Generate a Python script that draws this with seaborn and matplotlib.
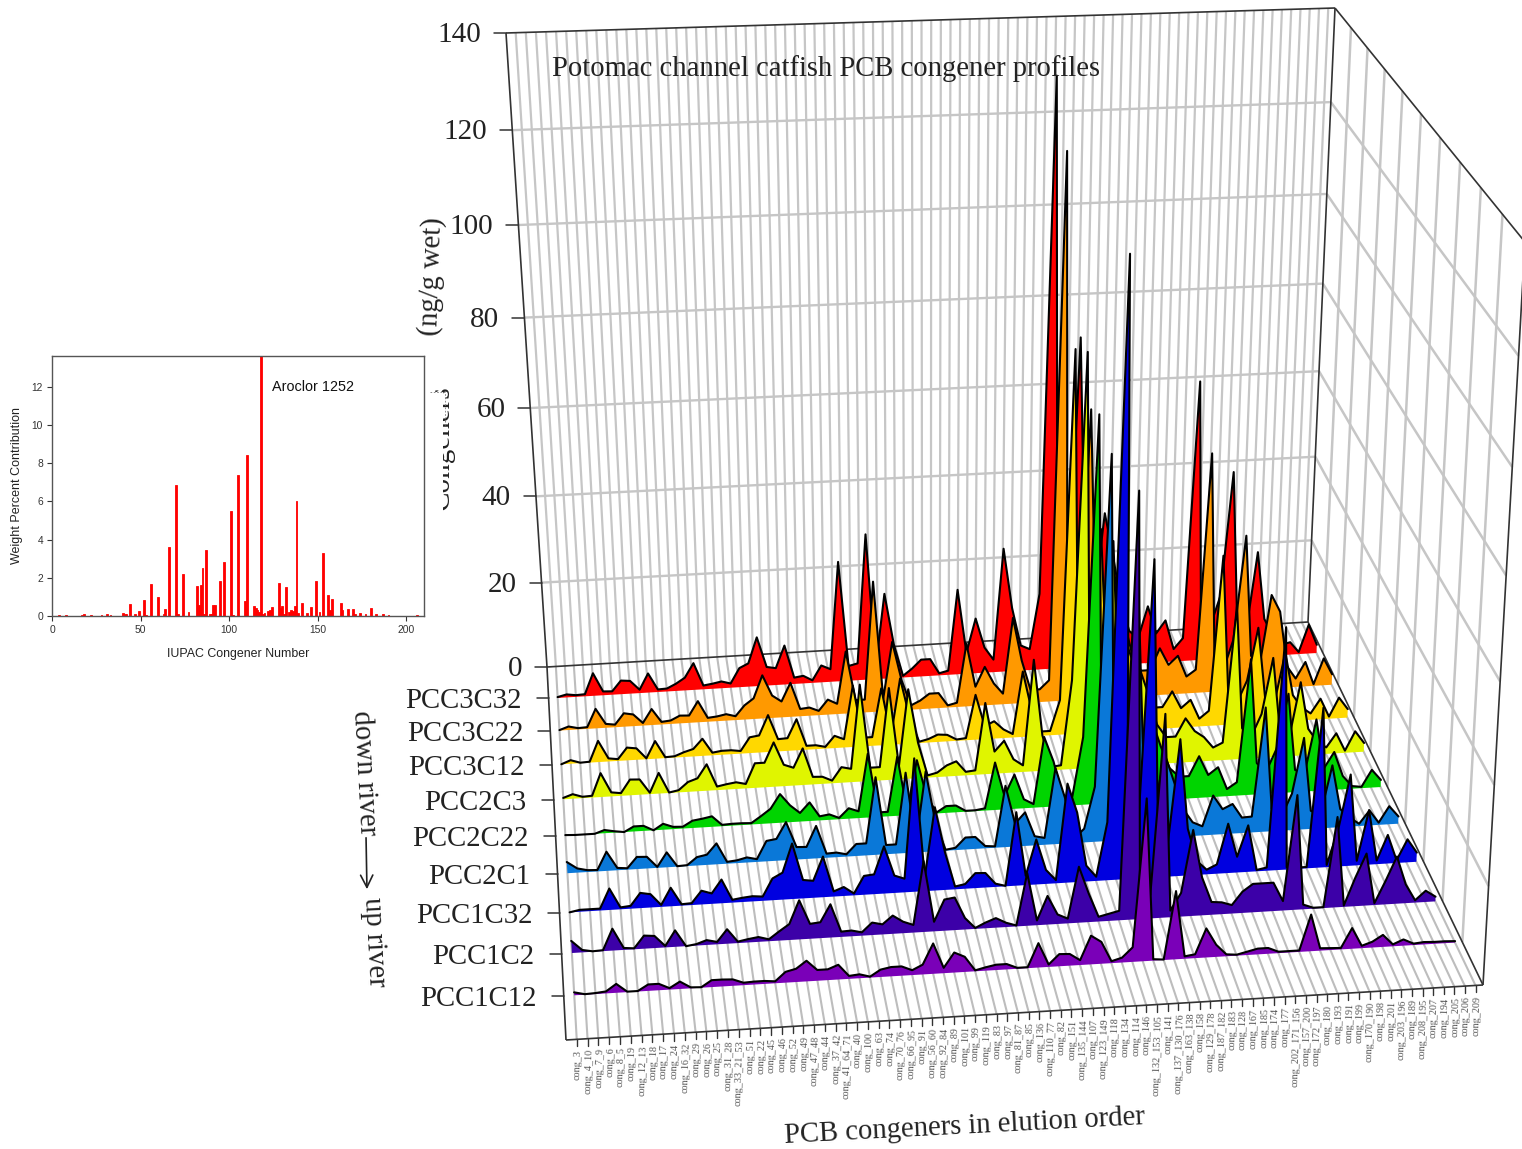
import numpy as np
import pandas as pd
import matplotlib
matplotlib.use('Agg')
import matplotlib.pyplot as plt
import seaborn as sns

congeners = ['3','4_10','7_9','6','8_5','19','12_13','18','17','24','16_32','29','26','25','31_28',
             '33_21_53','51','22','45','46','52','49','47_48','44','37_42','41_64_71','40','100','63','74',
             '70_76','66_95','91','56_60','92_84','89','101','99','119','83','97','81_87','85','136','110_77',
             '82','151','135_144','107','123_149','118','134','114','146','132_153_105','141','137_130_176',
             '163_138','158','129_178','187_182','183','128','167','185','174','177','202_171_156','157_200',
             '172_197','180','193','191','199','170_190','198','201','203_196','189','208_195','207','194',
             '205','206','209']

samples = ['PCC3C32','PCC3C22','PCC3C12','PCC2C3','PCC2C22','PCC2C1','PCC1C32','PCC1C2','PCC1C12']
colors = ['#ff0000','#ff9900','#ffd800','#e0f500','#00d400','#0a78d8','#0000e0','#3c00a8','#7a00b8']

pcc3c32 = [.2,.7,.4,.5,5.3,.9,.8,3.2,3,.8,
           4.5,.6,.7,1.7,3,6.3,.9,1.2,1.6,1,
           4.5,5.5,11.5,4.4,4,9.2,1.5,1.8,.6,4,
           3,28,3.5,4,34,3,20,8,.4,2,
           4,4,.5,1,20,5,13,6,3,29,
           15,6,5,18,132,12,10,76,20,14,
           36,26,15,8,6,13.6,7,10,3,5.5,
           65,6,8,15,44,8,6,25,9,5,
           2.5,3,.5,7,2]
pcc3c22 = [.1,.8,.3,.4,4.5,.9,.6,3.1,2.7,.6,
           3.7,.6,.8,1.8,1.7,4.9,.9,1.1,1.5,.9,
           3.3,4.8,10,5.2,3.7,7.9,1.7,1.9,1,3.5,
           2.4,14.4,3,3,30,3,16,7,1,2,
           3.5,3.5,.5,1,14.6,4.5,9,5,2.5,20,
           10,3,3,5,121,3,6,66,15,10,
           28,18,10,6,6,11,7,9,4,5.5,
           55,8,5,12,36,8,6,22,18,5,
           2,5.8,.4,6.4,2.5]
pcc3c12 = [0,.8,.1,.2,4.8,.7,.4,2.9,2.6,.2,
           4,.2,.3,1.1,1.7,3.9,.6,.9,.9,.6,
           3.6,3.9,8.4,2.8,2.9,7.1,.9,.9,.4,2.8,
           1.9,14,2,2,13,2,15,6,.3,.8,
           1.7,1.5,.3,.5,10.3,3,4,2,.8,15,
           6,1,1,8,85,3,6,46,12,8,
           20,14,8,5,5,8.5,4.5,6.3,1.8,3.5,
           38.7,8,5,10,22,6,4,16,6,3,
           1.5,4.8,.5,4.8,2]
pcc2c3 = [.3,1,.3,.4,5.3,.9,.6,3.5,3.4,.3,
          4.6,.1,.5,2.2,2.9,5.9,.8,1.2,1.5,1,
          5.5,5.5,9.9,4.8,4,8.2,1.7,1.6,.6,3.5,
          3,21.6,3,3,20.5,3,20,8,.5,1,
          2.5,3.3,.8,1,16,5,7.3,3,1.5,25,
          8,.8,1,20,90,4,6,50,12,8,
          22,16,9,6,6,10,7,5.5,3,4,
          34.6,7,5,10,22.5,6,4,16.7,6,3,
          1.5,4.6,.5,4.8,2]
pcc2c22 = [.1,0,0,0,.7,.3,0,1.1,1.1,0,
           1.3,.5,.4,1.6,1.9,2.3,.3,.4,.4,.3,
           1.7,3.2,6.3,3.7,1.9,4.1,.9,1.2,.3,2.3,
           1.5,14,1,1,13,1,12,4,.2,1.5,
           1.5,.2,.2,.5,10.5,3,7.6,2,.8,15.5,
           10,2,2,15,83,5,6,46,10,6,
           18,12,7,5,5,9.3,5,6.6,1.6,3,
           30,7,5,10,22,5,4,16,5,8.5,
           3,.6,.3,4,1.6]
pcc2c1 = [2.4,.9,.4,.3,4.1,.5,.3,2.6,2.5,.2,
          3.2,.1,.2,1.8,2.2,4.5,.4,.6,1.1,.6,
          4.4,4.7,8.2,2.7,2.6,7,.9,1,.5,2.6,
          2.6,16.7,2,2,17.3,2,17.3,6,.2,.5,
          2.6,2.6,.5,.3,13.3,5,7.3,2,1.5,16.5,
          10,1,3,12,81,5,6,50,10,6,
          18,12,6,3,2,8.6,5.5,6.5,3.4,3.5,
          27,5,3,8,20,4,3,13.7,4,2,
          .5,3.3,.5,4,1.6]
pcc1c32 = [0,.4,.4,.4,4.5,.4,.6,3.2,2.8,.4,
           3.9,.3,.4,2.9,2.2,5,.6,.9,1.1,.9,
           4.6,5.7,11.7,3.9,3.6,8.6,1.1,1.9,.4,4,
           4.2,10,3.7,2.9,28,3,17.6,8,.6,1,
           3.2,3.1,.7,.1,15.6,2,9.6,3,.7,21,
           14.8,3.4,.9,12.4,125,10,8,66,12,6,
           29,10,3,1,2,10.6,3.4,10,.3,.7,
           51,.5,.3,.3,34,.5,8,19.6,1,11.8,
           .8,6.2,.6,5,2]
pcc1c2 = [2.5,.5,.1,.2,4.5,.4,.2,2.7,2.5,.3,
          3.4,0,.3,1,.5,3,.3,.7,1,.4,
          1.9,3.3,8.1,3.1,3.3,6.9,1.1,1.2,.7,2.6,
          2.1,3.8,2.4,1.6,14.7,2,6.5,6.8,2.4,.2,
          1.2,2,.9,.2,11,1,6,2,1,11.7,
          6,1,1.5,2,86,4,5,42,1.4,5,
          18,8,2.7,2.5,1.8,4.5,6,6,6,2,
          24,1,.2,.2,19,.3,6,11,.4,5,
          10,4,.5,2.4,1]
pcc1c12 = [.6,.1,.2,.4,1.8,.1,.1,1.3,1.3,.3,
           1.5,.2,.1,1.4,1.4,1.3,.5,.6,.6,.4,
           2.2,2.7,4.2,2.2,2.2,3,.6,.8,.2,1.5,
           1.9,1.9,1,2,6.2,1.1,4.1,3.1,.2,.7,
           1.1,1.1,.2,.2,5,.5,2.5,2.4,1,5.9,
           4.5,.4,1,3,33,.3,.1,14,.5,.8,
           6,2.5,.4,.2,.7,1.2,1.2,.3,.3,.3,
           7.6,.5,.4,.3,4.3,.5,1.2,2.5,.4,1.3,
           .3,.5,.4,.4,.3]
profiles = [pcc3c32, pcc3c22, pcc3c12, pcc2c3, pcc2c22, pcc2c1, pcc1c32, pcc1c2, pcc1c12]

# Aroclor 1252 inset
iupac = [4,8,17,18,22,28,31,33,40,41,42,44,47,49,52,53,56,60,63,64,66,70,71,74,77,82,83,84,85,86,87,89,90,91,92,
         95,97,101,102,105,109,110,114,115,116,117,118,119,120,122,123,124,128,129,130,131,132,134,135,136,137,
         138,139,141,144,146,149,151,153,156,157,158,163,164,167,170,171,174,177,180,183,187,190,206]
weight_pct = [.03,.05,.03,.08,.03,.05,.1,.05,.15,.1,.08,.65,.08,.25,.85,.03,1.7,.97,.08,.35,3.6,6.85,.12,2.2,.2,
              1.55,.6,1.6,2.5,.1,3.45,.1,.1,.55,.58,1.85,2.8,5.5,.07,7.4,.8,8.4,.5,.4,.3,.2,13.6,.1,.15,.25,.3,.45,
              1.72,.4,.5,.1,1.5,.2,.3,.25,.5,6,.15,.7,.15,.45,1.85,.22,3.3,1.1,.3,.9,.7,.3,.35,.35,.08,.15,.08,.42,
              .1,.1,.05,.03]

W, H = 1522, 1149
sns.set_style('white')
plt.rcParams['font.family'] = ['Liberation Serif', 'DejaVu Serif']

# the box as it sits in the picture: one plane map for the floor, one for the top, perspective in between
X0, X1, D1, Z1 = -1, 84.7, 10, 140
corners = [(X0,0), (X1,0), (X0,D1), (X1,D1)]
floor_px = [(547,667), (1308,622), (566,1040), (1483,985)]
top_px = [(506,33), (1335,8), (522,273), (1525,242)]
Z_PERSP = 1.086
FLOOR_BOW, TOP_BOW = 0.2, 0.9

def plane_map(src, dst):
    rows = []
    for (a,b),(u,v) in zip(src, dst):
        rows.append([a,b,1,0,0,0,-u*a,-u*b,-u])
        rows.append([0,0,0,a,b,1,-v*a,-v*b,-v])
    return np.linalg.svd(np.array(rows))[2][-1].reshape(3,3)

floor_map = plane_map(corners, floor_px)
top_map = plane_map(corners, top_px)

def apply_map(m, x, d):
    p = m @ np.vstack([x, d, np.ones(x.size)])
    return p[0]/p[2], p[1]/p[2]

def project(x, d, z):
    x, d, z = np.broadcast_arrays(np.atleast_1d(np.asarray(x,float)), np.asarray(d,float), np.asarray(z,float))
    bow = np.clip(x*(84-x), 0, None)/1764
    u0, v0 = apply_map(floor_map, x + FLOOR_BOW*bow, d)
    u1, v1 = apply_map(top_map, x + TOP_BOW*bow, d)
    t = z/(z + Z_PERSP*(Z1 - z))
    return u0 + (u1-u0)*t, v0 + (v1-v0)*t

fig = plt.figure(figsize=(W/100, H/100), dpi=100)
ax = fig.add_axes([0,0,1,1])
ax.set_xlim(0, W)
ax.set_ylim(H, 0)
ax.axis('off')

def seg(p, q, color, lw, z=1):
    u, v = project(*zip(p, q))
    ax.plot(u, v, color=color, lw=lw, zorder=z, solid_capstyle='butt')

grid = '#c6c6c6'
idx = np.arange(len(congeners))
for i in idx:
    seg((i,0,0), (i,0,Z1), grid, 1.6)
    seg((i,0,0), (i,D1,0), '#bdbdbd', 1.5)
for zt in range(20, 140, 20):
    seg((X0,0,zt), (X1,0,zt), grid, 1.7)
    seg((X1,0,zt), (X1,D1,zt), grid, 1.8)
for dt in range(1, 10):
    seg((X1,dt,0), (X1,dt,Z1), grid, 1.8)

edge = '#333333'
for p, q in [((X0,0,0),(X0,0,Z1)), ((X0,0,Z1),(X1,0,Z1)), ((X1,0,0),(X1,0,Z1)), ((X0,0,0),(X1,0,0)),
             ((X0,0,0),(X0,D1,0)), ((X0,D1,0),(X1,D1,0)), ((X1,0,0),(X1,D1,0)), ((X1,D1,0),(X1,D1,Z1)),
             ((X1,0,Z1),(X1,D1,Z1))]:
    seg(p, q, edge, 1.2, 2)

# ridges, back row first
for r, (vals, col) in enumerate(zip(profiles, colors)):
    d = r + 1
    u, v = project(idx, d, vals)
    ub, vb = project(idx, d, 0)
    ax.fill(np.r_[u, ub[::-1]], np.r_[v, vb[::-1]], color=col, lw=0, zorder=3+r)
    ridge = pd.DataFrame({'u': u, 'v': v})
    sns.lineplot(data=ridge, x='u', y='v', sort=False, estimator=None, color='black', lw=1.5, ax=ax, zorder=3.5+r)
ax.axis('off')

# axis ticks and labels
for zt in range(0, 160, 20):
    u, v = project(X0, 0, zt)
    ax.plot([u[0]-12, u[0]], [v[0], v[0]], color=edge, lw=1.1, zorder=2)
    ax.text(u[0]-25, v[0]+2, str(zt), ha='right', va='center', fontsize=21, color='#222222')
for r, name in enumerate(samples):
    u, v = project(X0, r+1, 0)
    ax.plot([u[0]-12, u[0]], [v[0], v[0]], color=edge, lw=1.1, zorder=2)
    ax.text(u[0]-27, v[0]+3, name, ha='right', va='center', fontsize=20.7, color='#222222')
for i, name in zip(idx, congeners):
    u, v = project(i, D1, 0)
    ax.plot([u[0], u[0]], [v[0], v[0]+7], color=edge, lw=1, zorder=2)
    ax.text(u[0]+1, v[0]+10, 'cong_' + name, rotation=88, ha='center', va='top', fontsize=7.3, color='#555555')

ax.text(552, 69, 'Potomac channel catfish PCB congener profiles', ha='left', va='center', fontsize=20.6, color='#222222', zorder=20)
ax.text(432, 276, '(ng/g wet)', rotation=88, ha='center', va='center', fontsize=20.6, color='#222222')
ax.text(965, 1127, 'PCB congeners in elution order', rotation=3, ha='center', va='center', fontsize=20.6, color='#222222')
ax.text(364, 773, 'down river', rotation=-87, ha='center', va='center', fontsize=20.6, color='#222222')
ax.text(374, 942, 'up river', rotation=-87, ha='center', va='center', fontsize=20.6, color='#222222')
ax.annotate('', xy=(367, 892), xytext=(366, 835), arrowprops=dict(arrowstyle='->', color='#222222', lw=1.2, mutation_scale=22))

# the pasted inset hides most of the old axis title
ax.text(442, 510, 'Congeners', rotation=90, ha='center', va='bottom', fontsize=21, color='#222222', zorder=1)
ax.fill([0,443,443,0], [392,392,670,670], color='white', lw=0, zorder=1.5)
ax.plot([430,445,445], [392,392,425], color='#777777', lw=.6, ls=(0,(2,2)), zorder=2)

inset = fig.add_axes([52/W, 1-616/H, 372/W, 260/H], zorder=30)
sns.barplot(x=iupac, y=weight_pct, native_scale=True, color='#ff0000', saturation=1, width=1,
            edgecolor='#ff0000', linewidth=.6, ax=inset)
sans = ['Liberation Sans', 'DejaVu Sans']
inset.set_xlim(0, 210)
inset.set_ylim(0, 13.6)
inset.set_xticks(range(0, 201, 50))
inset.set_yticks(range(0, 13, 2))
inset.tick_params(axis='both', length=3.5, width=.8, labelsize=7.4, colors='#333333', bottom=True, left=True, pad=3)
for t in inset.get_xticklabels() + inset.get_yticklabels():
    t.set_family(sans)
inset.set_xlabel('IUPAC Congener Number', fontsize=8.9, family=sans, color='#222222', labelpad=9)
inset.set_ylabel('Weight Percent Contribution', fontsize=9, family=sans, color='#222222', labelpad=6)
inset.text(124, 12, 'Aroclor 1252', fontsize=10.4, family=sans, color='#111111', va='center')
for s in inset.spines.values():
    s.set_visible(True)
    s.set_color('#555555')
    s.set_linewidth(1)

fig.savefig('out.png', dpi=100)
